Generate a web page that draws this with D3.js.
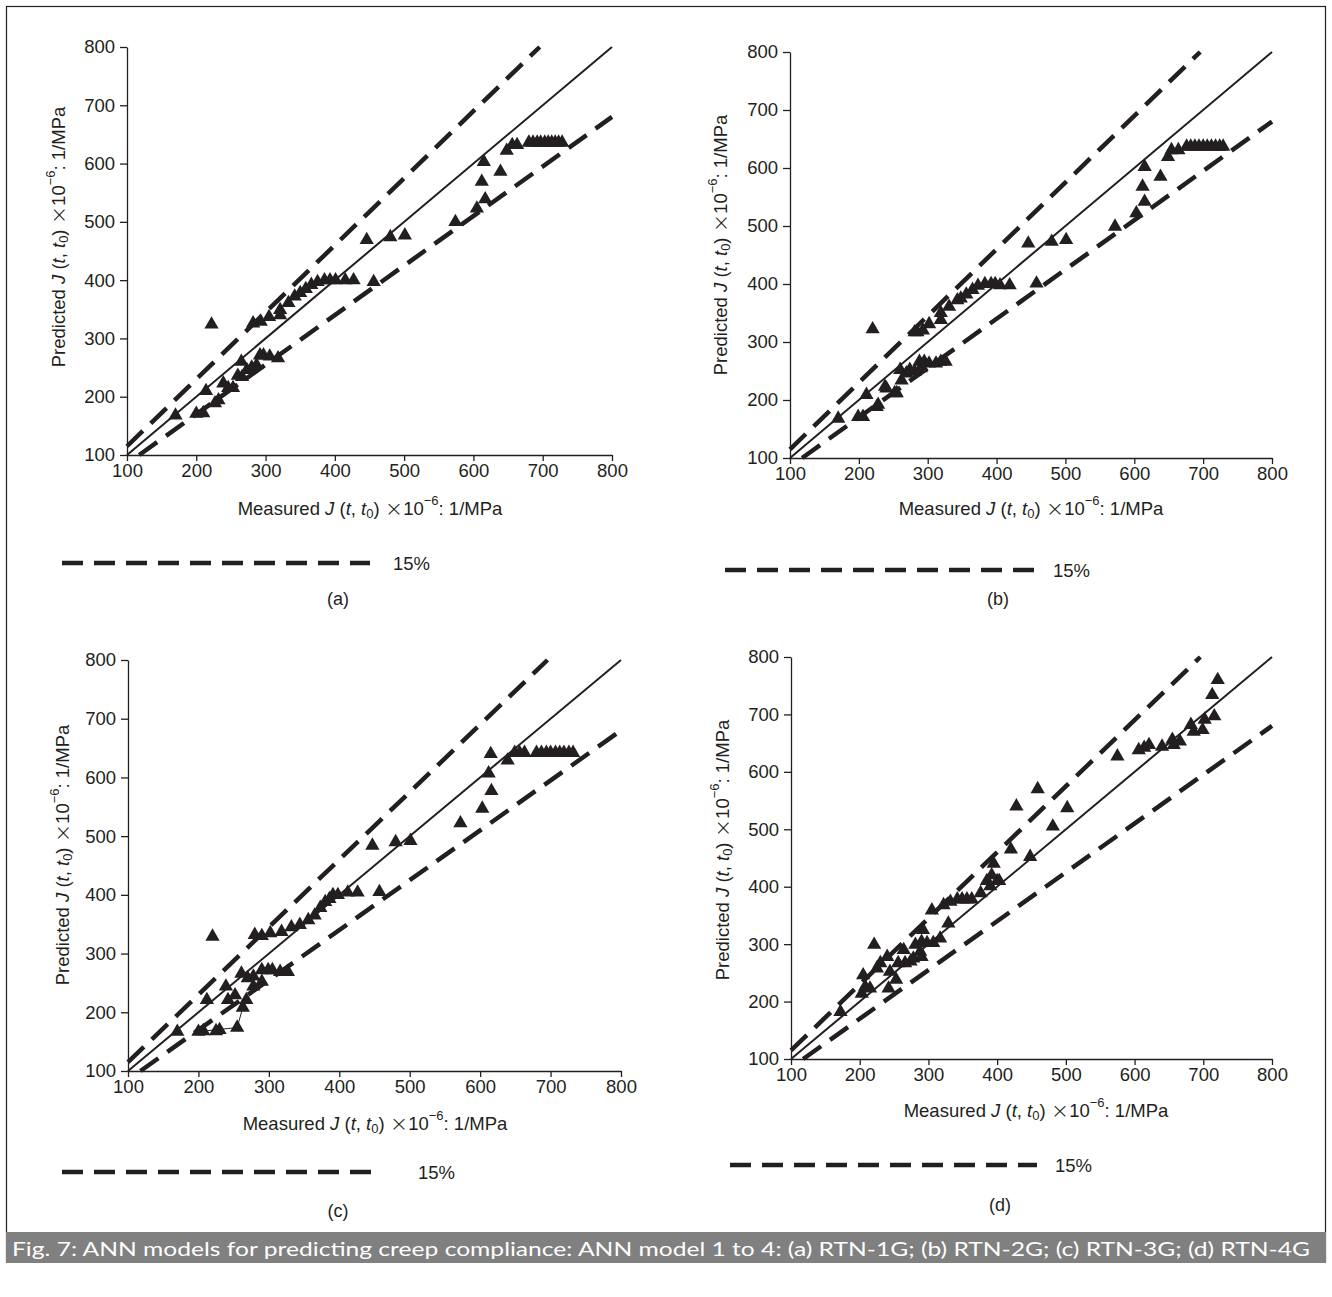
<!DOCTYPE html>
<html>
<head>
<meta charset="utf-8">
<script src="https://cdn.jsdelivr.net/npm/d3@7"></script>
<style>
  body { margin: 0; background: #fff; }
  svg text { font-family: "Liberation Sans", Arial, sans-serif; fill: #231f20; }
</style>
</head>
<body>
<div id="chart"></div>
<script>
// axis ticks
const ticks = [100, 200, 300, 400, 500, 600, 700, 800]
const bandPct = 15

// (a) RTN-1G
const measuredA = [170,200,210,214,222,227,232,239,246,253,260,265,266,273,280,287,292,297,306,318,
  282,293,305,321,321,333,342,350,358,366,375,385,393,401,415,427,446,456,480,501,
  574,605,612,615,617,639,648,656,663,680,686,692,697,703,708,713,718,723,728]
const predictedA = [168,171,172,210,324,189,194,223,215,215,236,260,234,246,250,254,271,271,269,266,
  326,329,337,340,349,361,372,378,385,392,397,400,400,400,400,400,469,397,474,477,
  500,523,569,603,539,586,622,632,632,636,636,636,636,636,636,636,636,636,636]

// (b) RTN-2G
const measuredB = [170,199,206,211,220,226,228,238,240,252,255,260,262,269,274,281,288,290,295,302,312,319,326,
  281,285,293,302,319,319,331,343,348,356,365,373,383,392,398,405,419,446,458,480,501,
  572,603,612,615,615,638,649,654,664,676,682,688,694,700,706,712,718,724,729]
const predictedB = [168,171,171,209,322,188,192,223,220,212,212,252,234,246,252,249,266,255,266,263,263,266,266,
  317,317,320,331,350,338,361,372,375,382,390,397,400,400,400,398,398,470,401,473,476,
  499,522,568,602,542,585,619,631,631,637,637,637,637,637,637,637,637,637,637]

// (c) RTN-3G
const measuredC = [170,200,207,212,220,225,230,239,242,252,255,261,263,268,270,278,278,290,290,299,305,316,327,
  280,290,302,318,332,344,356,365,373,380,386,391,398,412,426,447,457,480,501,
  572,603,612,615,616,639,649,656,663,680,687,694,700,707,713,719,726,732]
const predictedC = [167,167,168,221,329,168,170,244,221,229,174,266,208,221,258,244,261,272,252,272,272,269,269,
  332,330,335,337,345,349,357,365,378,388,393,400,400,404,404,484,405,490,492,
  522,547,607,640,577,629,642,642,642,642,642,642,642,642,642,642,642,642]
// thin joining line drawn in (c)
const lineMeasuredC = [200, 255, 263]
const linePredictedC = [167, 174, 208]

// (d) RTN-4G
const measuredD = [172,203,205,208,215,221,225,230,240,242,244,253,256,264,266,274,278,281,288,290,290,292,298,307,317,329,
  305,322,332,342,349,356,363,376,385,390,392,395,400,403,420,428,448,459,481,502,
  575,606,614,621,640,655,657,666,682,686,699,702,716,713,721]
const predictedD = [182,214,246,226,223,299,258,267,278,223,252,238,267,290,267,270,275,299,287,278,304,325,302,302,310,336,
  359,368,374,378,378,378,378,389,410,401,420,440,410,410,465,540,452,570,505,537,
  627,638,642,647,644,656,647,653,682,670,673,691,697,734,760]

const panels = [
  {id: "a", mx: measuredA, py: predictedA, px0: 127, px1: 612, py0: 455, py1: 47,
   xt: [370, 508], yt: [58, 237], leg: [62, 370, 563, 393], lab: [338, 599]},
  {id: "b", mx: measuredB, py: predictedB, px0: 790, px1: 1272, py0: 458, py1: 52,
   xt: [1031, 508], yt: [720, 245], leg: [725, 1035, 570, 1053], lab: [998, 599]},
  {id: "c", mx: measuredC, py: predictedC, px0: 128, px1: 621, py0: 1071, py1: 660,
   xt: [375, 1123], yt: [62, 855], leg: [62, 372, 1172, 418], lab: [338, 1211],
   lx: lineMeasuredC, ly: linePredictedC},
  {id: "d", mx: measuredD, py: predictedD, px0: 791, px1: 1272, py0: 1059, py1: 657,
   xt: [1036, 1110], yt: [722, 850], leg: [730, 1037, 1165, 1055], lab: [1000, 1205]}
]

const W = 1332, H = 1297
const svg = d3.select("#chart").append("svg").attr("width", W).attr("height", H)

svg.append("rect").attr("x", 6.5).attr("y", 6.5).attr("width", 1319).attr("height", 1255)
  .attr("fill", "none").attr("stroke", "#231f20").attr("stroke-width", 1.2)

function axisTitle(g, first, x, y, rotate) {
  let t = g.append("text").attr("x", x).attr("y", y).attr("text-anchor", "middle")
    .attr("dominant-baseline", "central").style("font-size", "18.5px")
  if (rotate) t.attr("transform", "rotate(-90," + x + "," + y + ")")
  t.append("tspan").text(first + " ")
  t.append("tspan").style("font-style", "italic").text("J")
  t.append("tspan").text(" (")
  t.append("tspan").style("font-style", "italic").text("t")
  t.append("tspan").text(", ")
  t.append("tspan").style("font-style", "italic").text("t")
  t.append("tspan").attr("dy", 5).style("font-size", "13px").text("0")
  t.append("tspan").attr("dy", -5).text(") ")
  t.append("tspan").style("font-size", "22px").style("font-family", "DejaVu Sans, sans-serif").style("font-weight", "300").text("\u00d7")
  t.append("tspan").text("10")
  t.append("tspan").attr("dy", -8).style("font-size", "13px").text("\u22126")
  t.append("tspan").attr("dy", 8).text(": 1/MPa")
}

panels.forEach(p => {
  const x = d3.scaleLinear().domain([100, 800]).range([p.px0, p.px1])
  const y = d3.scaleLinear().domain([100, 800]).range([p.py0, p.py1])
  const g = svg.append("g").attr("class", "panel-" + p.id)

  // AXES
  const ax = g.append("g").attr("transform", "translate(0," + p.py0 + ")")
    .call(d3.axisBottom(x).tickValues(ticks).tickSize(6).tickSizeOuter(0).tickPadding(3))
  const ay = g.append("g").attr("transform", "translate(" + p.px0 + ",0)")
    .call(d3.axisLeft(y).tickValues(ticks).tickSize(7).tickSizeOuter(0).tickPadding(5))
  ;[ax, ay].forEach(a => {
    a.selectAll("path, line").attr("stroke", "#231f20").attr("stroke-width", 1.3)
    a.selectAll("text").style("font-size", "18.5px").style("font-family", "Liberation Sans, Arial, sans-serif").attr("fill", "#231f20")
  })

  // 1:1 and 15% lines
  const up = 1 + bandPct / 100, lo = 1 - bandPct / 100
  g.append("line").attr("x1", x(100)).attr("y1", y(100)).attr("x2", x(800)).attr("y2", y(800))
    .attr("stroke", "#231f20").attr("stroke-width", 2)
  g.append("line").attr("x1", x(100)).attr("y1", y(100 * up)).attr("x2", x(800 / up)).attr("y2", y(800))
    .attr("stroke", "#231f20").attr("stroke-width", 4.5).attr("stroke-dasharray", "22,11")
  g.append("line").attr("x1", x(100 / lo)).attr("y1", y(100)).attr("x2", x(800)).attr("y2", y(800 * lo))
    .attr("stroke", "#231f20").attr("stroke-width", 4.5).attr("stroke-dasharray", "22,11")

  if (p.lx) {
    g.append("path").datum(p.lx.map((v, i) => [v, p.ly[i]]))
      .attr("d", d3.line().x(d => x(d[0])).y(d => y(d[1])))
      .attr("fill", "none").attr("stroke", "#231f20").attr("stroke-width", 1)
  }

  // POINTS
  const tri = d3.symbol().type(d3.symbolTriangle).size(88)
  g.selectAll(".pt").data(p.mx.map((v, i) => [v, p.py[i]])).enter().append("path")
    .attr("class", "pt").attr("d", tri)
    .attr("transform", d => "translate(" + x(d[0]) + "," + y(d[1]) + ")")
    .attr("fill", "#231f20")

  // TITLES
  axisTitle(g, "Measured", p.xt[0], p.xt[1], false)
  axisTitle(g, "Predicted", p.yt[0], p.yt[1], true)

  // LEGEND
  g.append("line").attr("x1", p.leg[0]).attr("x2", p.leg[1]).attr("y1", p.leg[2]).attr("y2", p.leg[2])
    .attr("stroke", "#231f20").attr("stroke-width", 4.5).attr("stroke-dasharray", "21,11")
  g.append("text").attr("x", p.leg[3]).attr("y", p.leg[2]).attr("dominant-baseline", "central")
    .style("font-size", "18.5px").text(bandPct + "%")
  g.append("text").attr("x", p.lab[0]).attr("y", p.lab[1]).attr("text-anchor", "middle")
    .attr("dominant-baseline", "central").style("font-size", "18px").text("(" + p.id + ")")
})

// CAPTION
svg.append("rect").attr("x", 6).attr("y", 1232).attr("width", 1320).attr("height", 31).attr("fill", "#808080")
svg.append("text").attr("x", 12).attr("y", 1248).attr("dominant-baseline", "central")
  .attr("textLength", 1298).attr("lengthAdjust", "spacingAndGlyphs")
  .style("font-family", "Lato, 'Open Sans', sans-serif").style("font-size", "20px").style("fill", "#fff")
  .text("Fig. 7: ANN models for predicting creep compliance: ANN model 1 to 4: (a) RTN-1G; (b) RTN-2G; (c) RTN-3G; (d) RTN-4G")
</script>
</body>
</html>
